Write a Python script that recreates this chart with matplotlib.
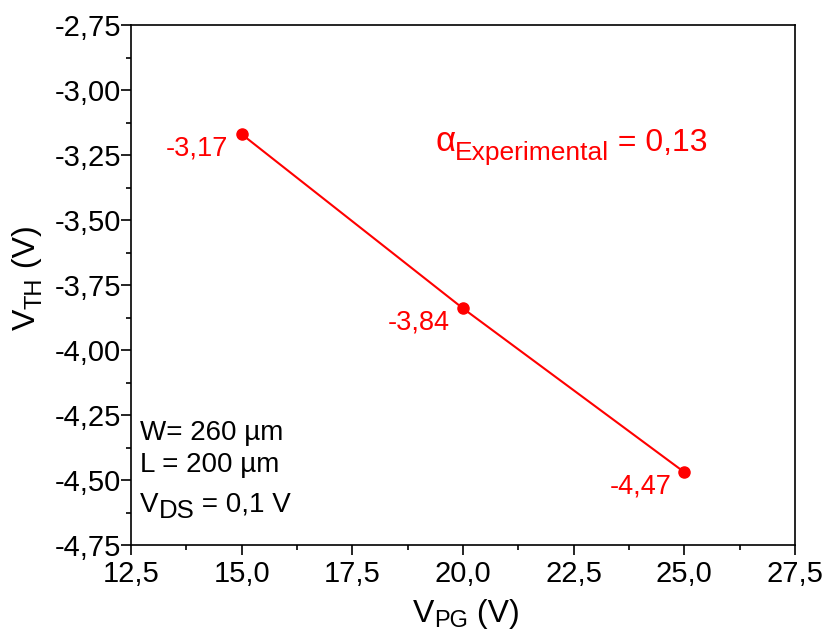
import numpy as np
import matplotlib
matplotlib.use('Agg')
import matplotlib.pyplot as plt
from matplotlib.ticker import MultipleLocator, FuncFormatter
from matplotlib.transforms import offset_copy

plt.rcParams['font.family'] = ['Liberation Sans', 'DejaVu Sans']

# data
vpg = [15.0, 20.0, 25.0]
vth = [-3.17, -3.84, -4.47]
vth_labels = ['-3,17', '-3,84', '-4,47']

RED = '#ff0000'


def comma(v, pos):
    return ('%.1f' % v).replace('.', ',')


def comma2(v, pos):
    return ('%.2f' % v).replace('.', ',')


def chain_text(ax, x, y, pieces, color='k', vertical=False):
    # pieces: (text, fontsize, drop in points) drawn one after another
    fig = ax.figure
    r = fig.canvas.get_renderer()
    adv = 0.0
    for s, fs, drop in pieces:
        if vertical:
            tr = offset_copy(ax.transAxes, fig=fig, x=drop, y=adv, units='points')
            t = ax.text(x, y, s, transform=tr, fontsize=fs, color=color,
                        rotation=90, rotation_mode='anchor',
                        ha='left', va='baseline', clip_on=False)
            bb = t.get_window_extent(r)
            adv += bb.height * 72.0 / fig.dpi
        else:
            tr = offset_copy(ax.transAxes, fig=fig, x=adv, y=-drop, units='points')
            t = ax.text(x, y, s, transform=tr, fontsize=fs, color=color,
                        ha='left', va='baseline', clip_on=False)
            bb = t.get_window_extent(r)
            adv += bb.width * 72.0 / fig.dpi


fig = plt.figure(figsize=(8.27, 6.32), dpi=100)
ax = fig.add_axes([131/827, 1-545/632, 664/827, 520/632])

ax.plot(vpg, vth, '-', color=RED, lw=1.5)
ax.plot(vpg, vth, 'o', color=RED, ms=8)
for x, y, s in zip(vpg, vth, vth_labels):
    ax.annotate(s, (x, y), xytext=(-9.5, -15), textcoords='offset points',
                ha='right', va='baseline', fontsize=19.5, color=RED)

ax.set_xlim(12.5, 27.5)
ax.set_ylim(-4.75, -2.75)
ax.xaxis.set_major_locator(MultipleLocator(2.5))
ax.xaxis.set_minor_locator(MultipleLocator(1.25))
ax.yaxis.set_major_locator(MultipleLocator(0.25))
ax.yaxis.set_minor_locator(MultipleLocator(0.125))
ax.xaxis.set_major_formatter(FuncFormatter(comma))
ax.yaxis.set_major_formatter(FuncFormatter(comma2))

for sp in ax.spines.values():
    sp.set_linewidth(1.2)
ax.tick_params(which='both', direction='out', top=False, right=False, width=1.2)
ax.tick_params(which='major', length=7, labelsize=21)
ax.tick_params(axis='x', which='major', pad=4)
ax.tick_params(axis='y', which='major', pad=0)
ax.tick_params(which='minor', length=3.5)

# axis labels with full size subscripts
chain_text(ax, 0.4247, -0.149, [('V', 23, 0), ('PG', 17, 3), (' (V)', 23, 0)])
chain_text(ax, -0.1446, 0.4135, [('V', 23, 0), ('TH', 17, 5), (' (V)', 23, 0)],
           vertical=True)

# device info
chain_text(ax, 0.0136, 0.2019, [('W= 260 µm', 20, 0)])
chain_text(ax, 0.0136, 0.1404, [('L = 200 µm', 20, 0)])
chain_text(ax, 0.0136, 0.0635, [('V', 20, 0), ('DS', 18.5, 4.5), (' = 0,1 V', 20, 0)])

chain_text(ax, 0.458, 0.757, [('α', 25, 0), ('Experimental', 19, 6), (' = 0,13', 23, 0)],
           color=RED)

fig.savefig('out.png', dpi=100)
